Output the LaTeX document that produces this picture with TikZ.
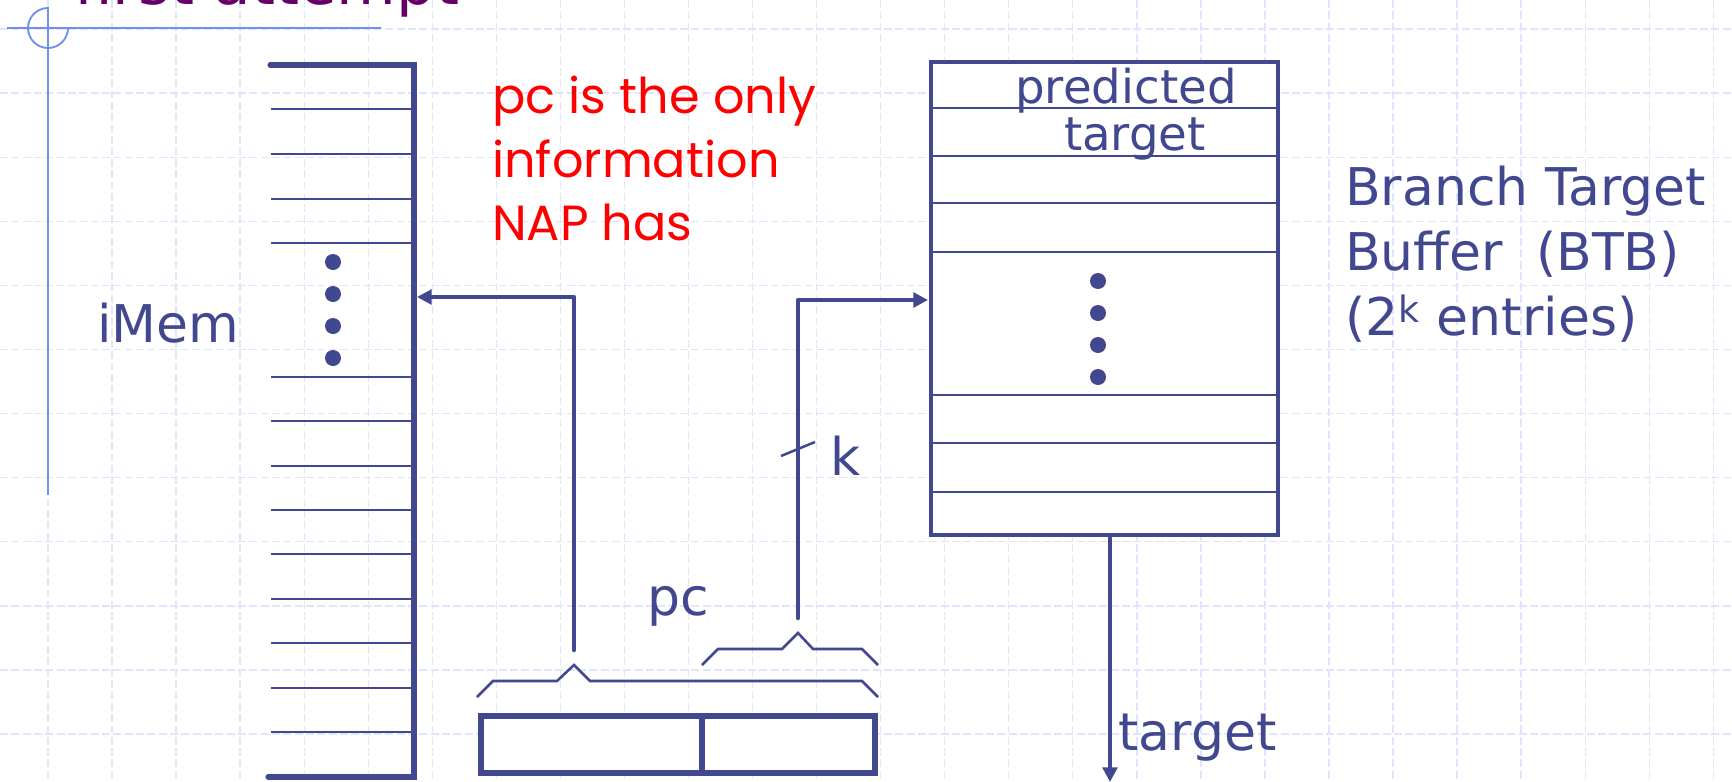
\documentclass[tikz,border=0pt]{standalone}
\usepackage{fontspec}
\setmainfont{DejaVu Sans}
\newfontfamily\notefont{Poppins}
\usetikzlibrary{arrows.meta,fit}

\definecolor{ink}{RGB}{65,72,143}
\definecolor{gridc}{RGB}{222,229,253}
\definecolor{deco}{RGB}{112,144,240}
\definecolor{titlec}{RGB}{102,0,102}
\definecolor{notec}{RGB}{255,0,0}

\tikzset{
  gridline/.style={gridc, line width=1pt, dash pattern=on 6pt off 2.5pt},
  decoline/.style={deco, line width=1.4pt},
  edgeline/.style={ink, line width=3.8pt, line cap=round, line join=miter},
  rungline/.style={ink, line width=1.9pt},
  braceline/.style={ink, line width=1.9pt, line join=miter},
  wire/.style={ink, line width=3.4pt, line cap=round, line join=round,
    -{Triangle[length=11pt,width=11pt]}},
  boxframe/.style={draw=ink, fill=white, line width=3.6pt, inner sep=0pt},
  dotmark/.style={ink},
  lbl/.style={ink, inner sep=0pt, font=\fontsize{39pt}{47pt}\selectfont},
  smalllbl/.style={ink, inner sep=0pt, font=\fontsize{35pt}{42pt}\selectfont},
  note/.style={notec, inner sep=0pt, font=\notefont\fontsize{37pt}{48pt}\selectfont},
  headline/.style={titlec, inner sep=0pt, font=\fontsize{46pt}{56pt}\selectfont},
}

\begin{document}
\begin{tikzpicture}[x=0.75pt, y=-0.75pt]
\useasboundingbox (0,0) rectangle (1732,782);
\begin{scope}
\clip (0,0) rectangle (1732,782);

% background grid
\foreach \i in {0,...,26}
  \draw[gridline] ({48+64.05*\i},0) -- ({48+64.05*\i},782);
\foreach \j in {0,...,11}
  \draw[gridline] (0,{29+64.1*\j}) -- (1732,{29+64.1*\j});

% crosshair ornament and heading
\draw[decoline] (7,28) -- (381,28);
\draw[decoline] (48,7) -- (48,495);
\draw[decoline] (68,28) arc[start angle=0, end angle=270, radius=20];
\node[headline, anchor=base west] (heading) at (74,4) {first attempt};

% instruction memory
\draw[edgeline] (270,65) -- (414,65) -- (414,777) -- (268,777);
\foreach \y in {109,154,199,243,377,421,466,510,554,599,643,688,732}
  \draw[rungline] (271,\y) -- (414,\y);
\foreach \y in {262,294,326,358}
  \fill[dotmark] (333,\y) circle[radius=8];
\node[lbl, anchor=base west] (imemlbl) at (97,342) {iMem};
\coordinate (imemIn) at (417,297);

% program counter register and its bit-field braces
\node[boxframe, line width=3.8pt, fit={(481,716) (875,773)}] (pcreg) {};
\draw[edgeline, line cap=butt] (702,716) -- (702,773);
\draw[braceline] (477,697) -- (493,681) -- (557,681) -- (574,665)
  -- (590,681) -- (862,681) -- (878,697);
\draw[braceline] (702,665) -- (718,649) -- (782,649) -- (798,633)
  -- (813,649) -- (862,649) -- (878,665);
\coordinate (hiTap) at (574,650);
\coordinate (loTap) at (798,618);
\node[lbl, anchor=base] (pclbl) at (678,615) {pc};

% branch target buffer
\node[boxframe, fit={(931,62) (1278,535)}] (btb) {};
\foreach \y in {108,156,203,252,395,443,492}
  \draw[rungline] (931,\y) -- (1278,\y);
\foreach \y in {281,313,345,377}
  \fill[dotmark] (1098,\y) circle[radius=8];
\node[smalllbl, anchor=base] (predlbl) at (1126,103) {predicted};
\node[smalllbl, anchor=base] (tgtlbl) at (1135,150) {target};
\coordinate (btbIn) at (928,300);
\coordinate (btbOut) at (1110,538);
\coordinate (tgtEnd) at (1110,782);

% connectors
\draw[wire] (hiTap) |- (imemIn);
\draw[wire] (loTap) |- (btbIn);
\draw[wire] (btbOut) -- (tgtEnd);
\draw[rungline] (781,456) -- (815,442);
\node[lbl, anchor=base west] (klbl) at (830,475) {k};
\node[lbl, anchor=base west] (outlbl) at (1118,750) {target};

% captions
\node[lbl, anchor=base west] (cap1) at (1345,205) {Branch Target};
\node[lbl, anchor=base west] (cap2) at (1345,270) {Buffer\ \ (BTB)};
\node[lbl, anchor=base west] (cap3) at (1345,335) {(2\textsuperscript{k} entries)};

\node[note, anchor=base west] (note1) at (492,113) {pc is the only};
\node[note, anchor=base west] (note2) at (492,177) {information};
\node[note, anchor=base west] (note3) at (492,240) {NAP has};
\end{scope}
\end{tikzpicture}
\end{document}
